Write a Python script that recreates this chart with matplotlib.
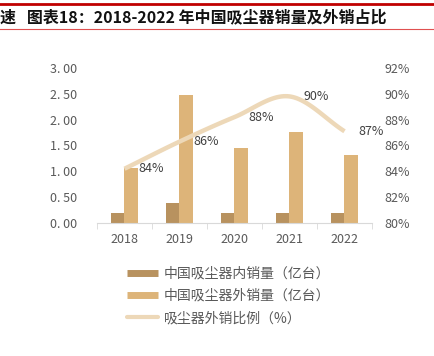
import numpy as np
import matplotlib
matplotlib.use("Agg")
import matplotlib.pyplot as plt
from matplotlib.lines import Line2D

plt.rcParams['font.family'] = ['Noto Sans CJK SC', 'DejaVu Sans']

years = ['2018', '2019', '2020', '2021', '2022']
domestic = [0.20, 0.39, 0.20, 0.20, 0.19]
export = [1.06, 2.47, 1.46, 1.77, 1.31]
export_share = [84.2, 86.3, 88.2, 89.8, 87.1]
left_ticks = [0.0, 0.5, 1.0, 1.5, 2.0, 2.5, 3.0]
right_ticks = [80, 82, 84, 86, 88, 90, 92]

c_dom = '#B8925F'
c_exp = '#DDB479'
c_line = '#EDD8B8'
c_tick = '#595959'


def smooth(x, y, n=30):
    # catmull-rom style curve through the points, like a smoothed office line
    x = np.asarray(x, float)
    y = np.asarray(y, float)
    m = np.gradient(y, x)
    xs, ys = [], []
    for i in range(len(x) - 1):
        t = np.linspace(0, 1, n)
        h = x[i + 1] - x[i]
        h00 = 2 * t**3 - 3 * t**2 + 1
        h10 = t**3 - 2 * t**2 + t
        h01 = -2 * t**3 + 3 * t**2
        h11 = t**3 - t**2
        xs.append(x[i] + t * h)
        ys.append(h00 * y[i] + h10 * h * m[i] + h01 * y[i + 1] + h11 * h * m[i + 1])
    return np.concatenate(xs), np.concatenate(ys)


fig = plt.figure(figsize=(4.35, 3.56), dpi=100)
ax = fig.add_axes([97 / 435, 1 - 223 / 356, 275 / 435, 155 / 356])
x = np.arange(len(years))
w = 0.24
ax.bar(x - w / 2, domestic, w, color=c_dom, zorder=2)
ax.bar(x + w / 2, export, w, color=c_exp, zorder=2)
ax.set_xlim(-0.5, len(years) - 0.5)
ax.set_ylim(0, 3)
ax.set_yticks(left_ticks)
ax.set_yticklabels([f'{v:.2f}'.replace('.', '. ') for v in left_ticks])
ax.set_xticks(x)
ax.set_xticklabels(years)
ax.set_xticks(np.arange(len(years) + 1) - 0.5, minor=True)
ax.tick_params(axis='x', which='major', length=0, pad=7, labelsize=9, labelcolor=c_tick)
ax.tick_params(axis='x', which='minor', length=4, color='#D9D9D9')
ax.tick_params(axis='y', length=0, pad=14, labelsize=9, labelcolor=c_tick)
for s in ['top', 'left', 'right']:
    ax.spines[s].set_visible(False)
ax.spines['bottom'].set_color('#D9D9D9')

ax2 = ax.twinx()
sx, sy = smooth(x, export_share)
ax2.plot(sx, sy, color=c_line, lw=3.2, solid_capstyle='butt', zorder=3)
for xi, v in zip(x, export_share):
    ax2.annotate(f'{v:.0f}%', (xi, v), xytext=(10, 0), textcoords='offset points',
                 va='center', ha='left', fontsize=9, color='#404040')
ax2.set_ylim(80, 92)
ax2.set_yticks(right_ticks)
ax2.set_yticklabels([f'{v}%' for v in right_ticks])
ax2.tick_params(axis='y', length=0, pad=9, labelsize=9, labelcolor=c_tick)
for s in ax2.spines.values():
    s.set_visible(False)

handles = [Line2D([], [], color=c_dom, lw=5, solid_capstyle='butt'),
           Line2D([], [], color=c_exp, lw=5, solid_capstyle='butt'),
           Line2D([], [], color=c_line, lw=3, solid_capstyle='round')]
labels = ['中国吸尘器内销量（亿台）', '中国吸尘器外销量（亿台）', '吸尘器外销比例（%）']
leg = fig.legend(handles, labels, loc='upper left', bbox_to_anchor=(115 / 435, 1 - 254 / 356),
                 frameon=False, fontsize=10, handlelength=2.2, handletextpad=0.4,
                 labelspacing=0.6)
for t in leg.get_texts():
    t.set_color(c_tick)

fig.text(0.0, 1 - 17 / 356, '速   图表18：2018-2022 年中国吸尘器销量及外销占比',
         fontsize=11.5, fontweight='bold', va='center', ha='left', color='#111111')
fig.add_artist(Line2D([0, 1], [1 - 4 / 356, 1 - 4 / 356], color='#C00000', lw=2))
fig.add_artist(Line2D([0, 1], [1 - 29 / 356, 1 - 29 / 356], color='#E05050', lw=0.8))

fig.savefig('out.png', dpi=100)
